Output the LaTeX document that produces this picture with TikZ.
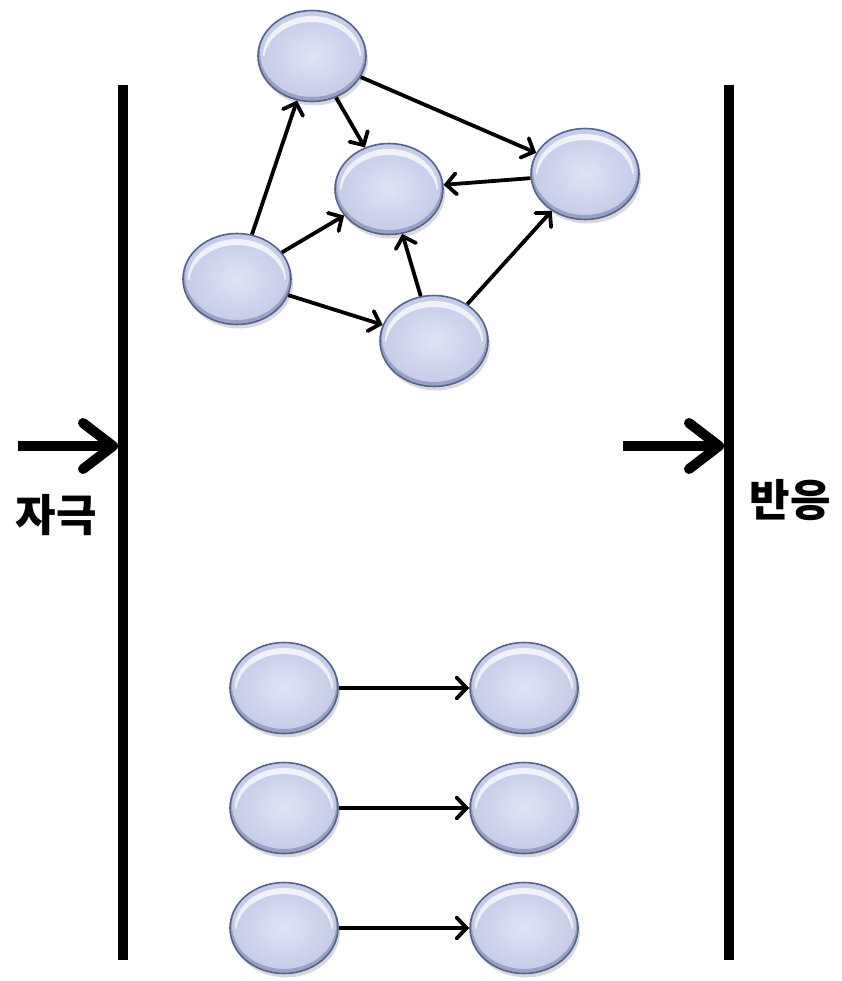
\documentclass[tikz,border=0pt]{standalone}
\usepackage{fontspec}
\newfontfamily\kr{Noto Sans CJK KR}
\usetikzlibrary{arrows.meta,shapes.geometric,shadows}
\definecolor{ballin}{HTML}{DFE3F3}
\definecolor{ballout}{HTML}{C4CBE7}
\definecolor{balledge}{HTML}{56638F}
\tikzset{
  ball/.style={ellipse, minimum width=108pt, minimum height=91pt, inner sep=0pt,
    draw=balledge, line width=1.6pt, inner color=ballin, outer color=ballout,
    drop shadow={opacity=0.3, shadow xshift=2pt, shadow yshift=-4pt},
    path picture={
      \fill[balledge, opacity=.4, even odd rule]
        (path picture bounding box.center) ellipse [x radius=54, y radius=45.5]
        ([yshift=3pt]path picture bounding box.center) ellipse [x radius=52, y radius=44];
      \begin{scope}
        \clip ([xshift=-60pt]path picture bounding box.center) rectangle ([xshift=60pt,yshift=-5pt]path picture bounding box.north);
        \fill[white, opacity=.75, even odd rule]
          (path picture bounding box.center) ellipse [x radius=49, y radius=40]
          ([yshift=-5pt]path picture bounding box.center) ellipse [x radius=48, y radius=39];
      \end{scope}
    }},
  link/.style={line width=3.8pt, -{Straight Barb[length=10pt,width=21pt,line width=3.8pt,line cap=round]}},
  wall/.style={line width=10pt},
  big/.style={line width=10pt, -{Straight Barb[length=30pt,width=46pt,line width=10pt,line cap=round,line join=round]}},
  lab/.style={font=\kr\bfseries\fontsize{44}{48}\selectfont}
}
\begin{document}
\begin{tikzpicture}[x=1pt,y=-1pt]
\useasboundingbox (0,0) rectangle (841,981);
% walls
\coordinate (wl1) at (123,85); \coordinate (wl2) at (123,960);
\coordinate (wr1) at (729,85); \coordinate (wr2) at (729,960);
\draw[wall] (wl1) -- (wl2);
\draw[wall] (wr1) -- (wr2);
% stimulus / response arrows
\coordinate (sa) at (18,446); \coordinate (sb) at (118,446);
\coordinate (ra) at (623,446); \coordinate (rb) at (724,446);
\draw[big] (sa) -- (sb);
\draw[big] (ra) -- (rb);
\node[lab] (stim) at (56,515) {자극};
\node[lab] (resp) at (790,500) {반응};
% network
\node[ball] (top) at (312,56) {};
\node[ball] (mid) at (389,189) {};
\node[ball] (rgt) at (585,174) {};
\node[ball] (lft) at (237,279) {};
\node[ball] (bot) at (434,341) {};
\draw[link] (lft) -- (top);
\draw[link] (top) -- (mid);
\draw[link] (top) -- (rgt);
\draw[link] (lft) -- (mid);
\draw[link] (lft) -- (bot);
\draw[link] (bot) -- (mid);
\draw[link] (bot) -- (rgt);
\draw[link] (rgt) -- (mid);
% independent pairs
\node[ball] (a1) at (284,688) {};
\node[ball] (b1) at (524,688) {};
\node[ball] (a2) at (284,808) {};
\node[ball] (b2) at (524,808) {};
\node[ball] (a3) at (284,928) {};
\node[ball] (b3) at (524,928) {};
\draw[link] (a1) -- (b1);
\draw[link] (a2) -- (b2);
\draw[link] (a3) -- (b3);
\end{tikzpicture}
\end{document}
